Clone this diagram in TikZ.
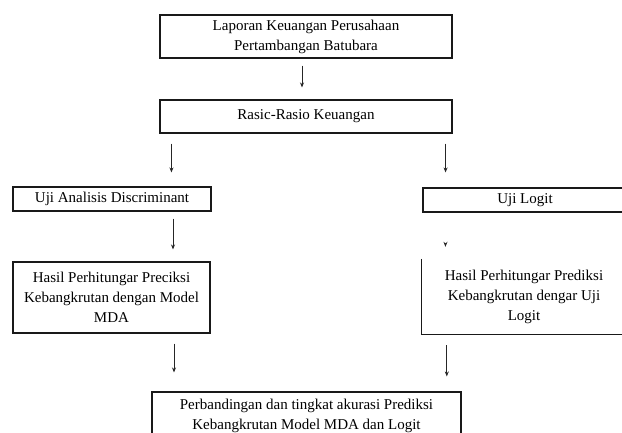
\documentclass[tikz,border=0pt]{standalone}
\usepackage{fontspec}
\setmainfont{Liberation Serif}
\usetikzlibrary{arrows.meta,calc}
\begin{document}
\begin{tikzpicture}[x=1pt,y=-1pt,
  every node/.style={font=\fontsize{15}{20}\selectfont, text=black, inner sep=0pt, align=center},
  boxed/.style={draw=black!90, line width=1.1pt},
  conn/.style={draw=black!85, line width=0.8pt, -{Stealth[length=5pt,width=4pt]}}
]
\useasboundingbox (0,0) rectangle (622,432);
\fill[white] (0,0) rectangle (622,432);

\node[boxed, minimum width=292pt, minimum height=43pt] (b1) at (306,36.5)
  {Laporan Keuangan Perusahaan\\Pertambangan Batubara};
\node[boxed, minimum width=292pt, minimum height=33pt] (b2) at (306,116.5)
  {Rasic-Rasio Keuangan};
\node[boxed, minimum width=198pt, minimum height=24pt] (ua) at (112,199)
  {Uji Analisis Discriminant};
\node[boxed, minimum width=197pt, minimum height=71pt] (mda) at (111.5,297.5)
  {Hasil Perhitungar Preciksi\\Kebangkrutan dengan Model\\MDA};
\node[boxed, minimum width=204pt, minimum height=24pt] (ul) at (525,200)
  {Uji Logit};
\node[minimum width=204pt, minimum height=75pt] (hl) at (524,296.5)
  {Hasil Perhitungar Prediksi\\Kebangkrutan dengar Uji\\Logit};
\draw[black!90, line width=1.1pt] (hl.north west) -- (hl.south west) -- (hl.south east);
\node[boxed, minimum width=309pt, minimum height=48pt] (fin) at (306.5,416)
  {Perbandingan dan tingkat akurasi Prediksi\\Kebangkrutan Model MDA dan Logit};

\coordinate (s1) at ($(b1.south)+(-4,7)$);
\draw[conn] (s1) -- (s1 |- {$(b2.north)+(0,-12)$});
\coordinate (s2) at ($(b2.south west)+(12,10)$);
\draw[conn] (s2) -- (s2 |- {$(ua.north)+(0,-14)$});
\coordinate (s3) at ($(b2.south east)+(-7,10)$);
\draw[conn] (s3) -- (s3 |- {$(ul.north)+(0,-15)$});
\coordinate (s4) at ($(ua.south)+(61,7)$);
\draw[conn] (s4) -- (s4 |- {$(mda.north)+(0,-12)$});
\coordinate (tipA) at ($(ul.south west)+(23,31)$);
\draw[conn] (tipA) -- (tipA |- {$(hl.north)+(0,-12)$});
\coordinate (s5) at ($(mda.south)+(62.5,10)$);
\draw[conn] (s5) -- (s5 |- {$(fin.north)+(0,-19)$});
\coordinate (s6) at ($(hl.south west)+(25,11)$);
\draw[conn] (s6) -- (s6 |- {$(fin.north)+(0,-15)$});
\end{tikzpicture}
\end{document}
